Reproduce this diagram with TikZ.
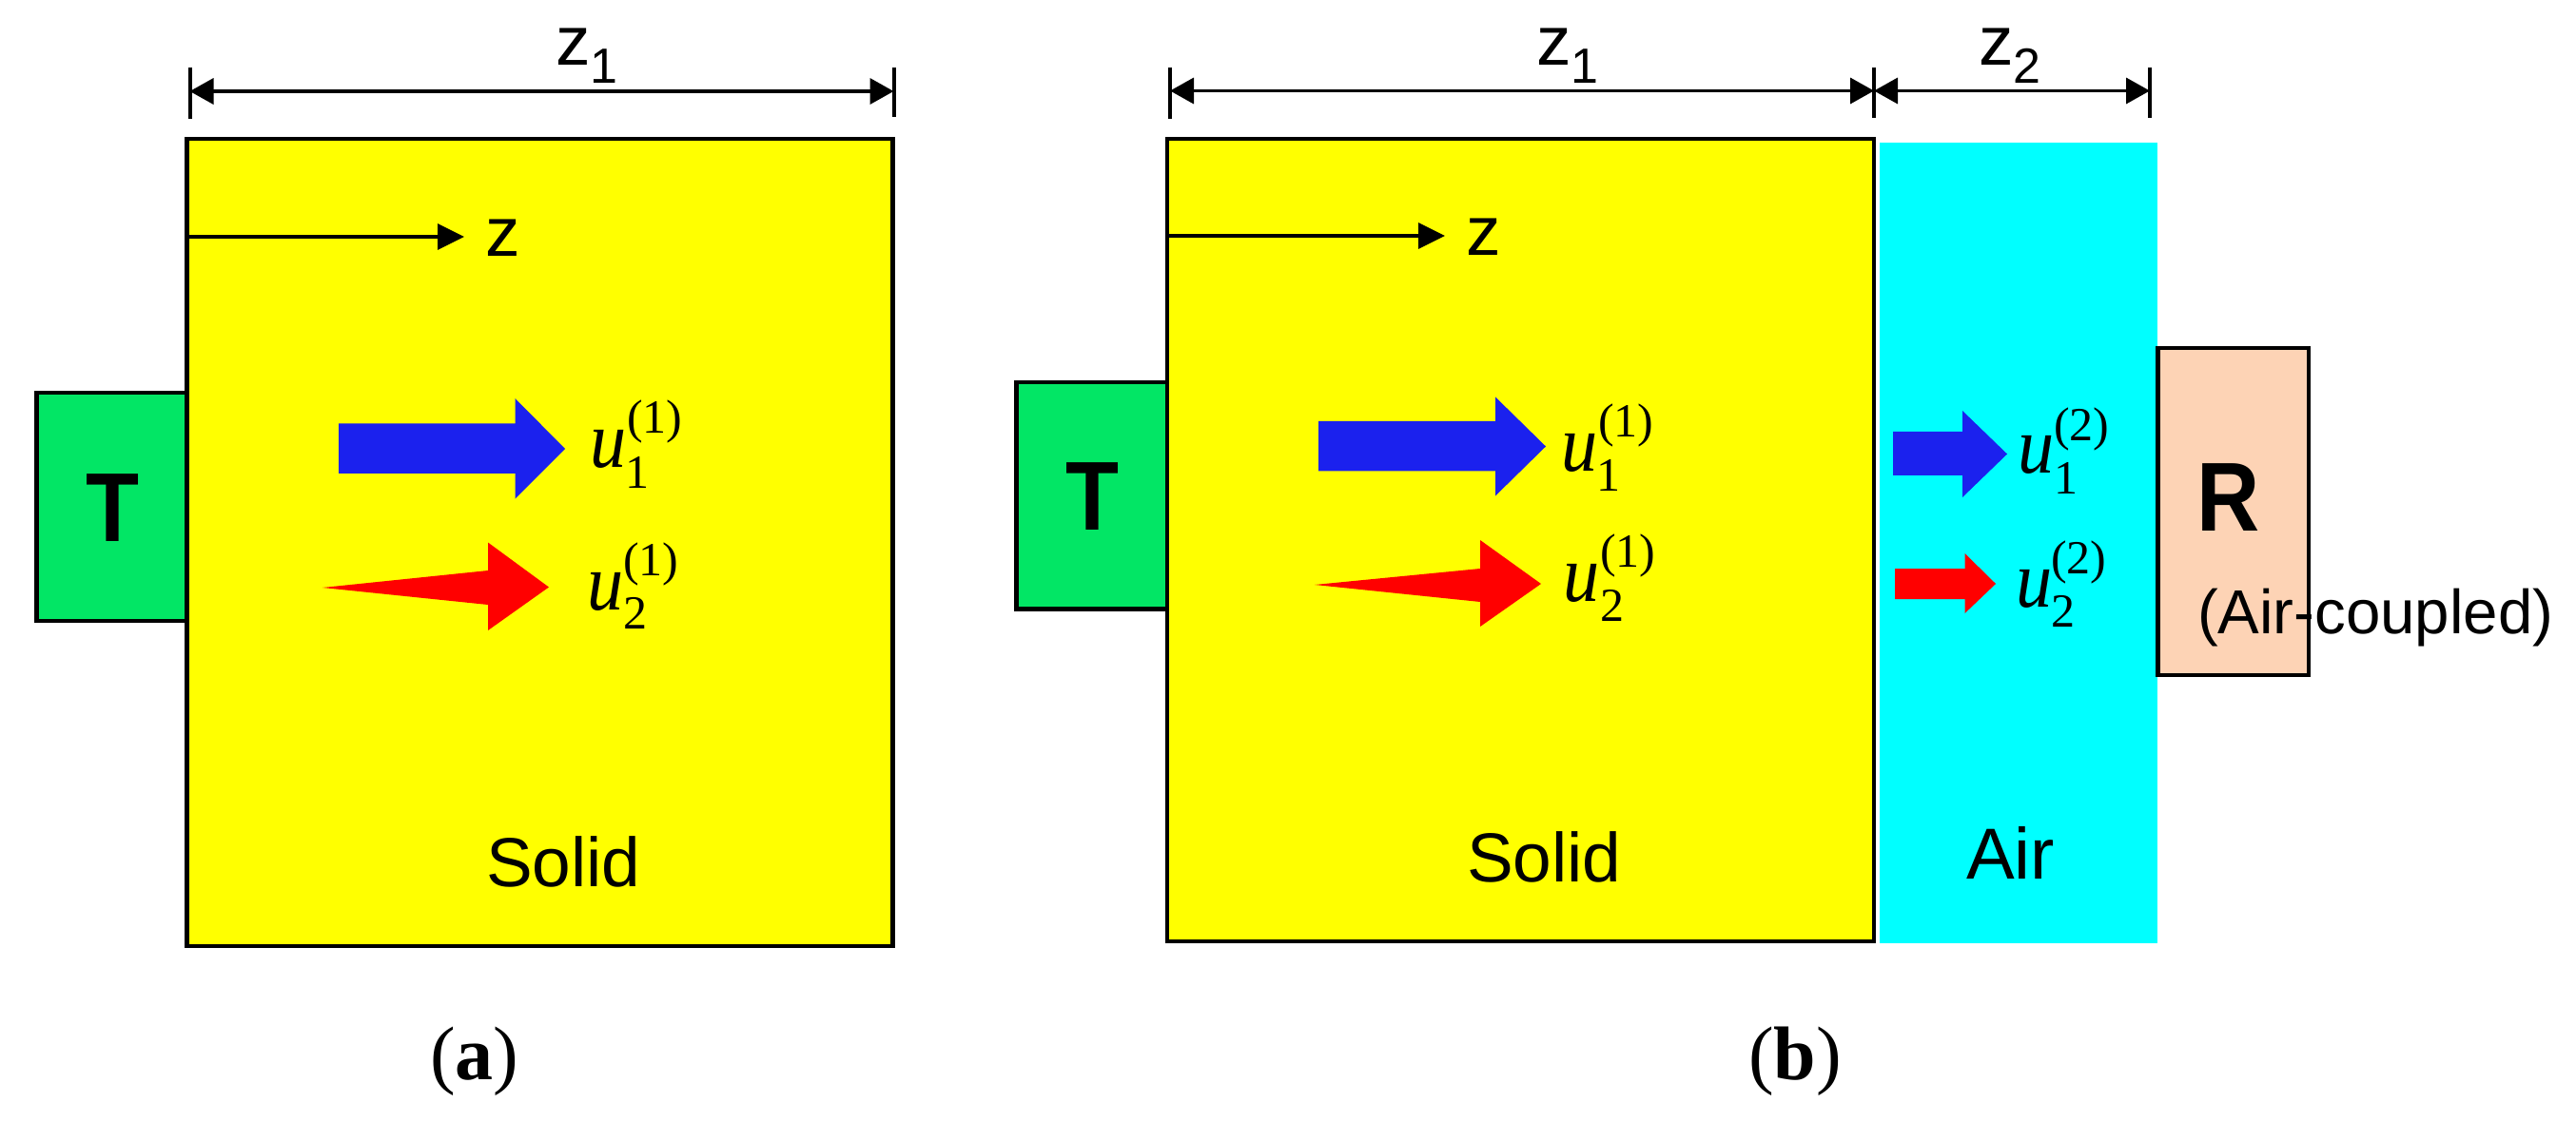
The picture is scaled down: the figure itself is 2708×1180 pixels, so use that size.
\documentclass[tikz,border=0pt]{standalone}
\usepackage{fontspec}
\usetikzlibrary{arrows.meta}
\setmainfont{Liberation Sans}
\newfontfamily\serifnum{Liberation Serif}
\definecolor{tgreen}{RGB}{2,230,101}
\definecolor{ublue}{RGB}{27,33,238}
\definecolor{rpeach}{RGB}{253,211,181}
\definecolor{pureyellow}{RGB}{255,255,0}
\definecolor{purecyan}{RGB}{0,255,255}
\definecolor{purered}{RGB}{255,0,0}
\newcommand{\pxfont}[1]{\fontsize{#1bp}{#1bp}\selectfont}
\newcommand{\narrow}[1]{\scalebox{0.89}[1]{#1}}
% z label with subscript
\newcommand{\zsub}[1]{\pxfont{36.5}z\raisebox{-9.5bp}{\pxfont{26}#1}}
% u with sub and superscript: sub, dxsub, dysub, sup, dxsup, dysup (all in bp)
\newcommand{\ulab}[6]{\scalebox{0.93}[1.04]{\serifnum\pxfont{41}\itshape u}\makebox[0pt][l]{\hspace*{#2bp}\raisebox{#3bp}{\serifnum\pxfont{25}#1}}\makebox[0pt][l]{\hspace*{#5bp}\raisebox{#6bp}{\serifnum\pxfont{25}#4}}}
\tikzset{
  x=0.5bp,y=-0.5bp,
  pbox/.style 2 args={rectangle,draw=black,line width=2.2bp,inner sep=0pt,outer sep=0pt,
    minimum width=#1*0.5bp,minimum height=#2*0.5bp},
  lab/.style={inner sep=0pt,outer sep=0pt,anchor=base west,text=black},
  letter/.style={lab,font=\pxfont{51.5}\bfseries},
  solidlab/.style={lab,font=\pxfont{36.5}},
  dimline/.style={line width=1.8bp,{Triangle[length=12.5bp,width=13.5bp]}-{Triangle[length=12.5bp,width=13.5bp]}},
  tick/.style={line width=2bp},
  axisline/.style={line width=1.6bp,-{Triangle[length=14bp,width=13.5bp]}},
}
\begin{document}
\begin{tikzpicture}
\useasboundingbox[fill=white] (0,0) rectangle (2708,1180);
% ---------- panel (a)
\node[pbox={742}{849},fill=pureyellow] (solidA) at (567.5,570.5) {};
\node[pbox={158}{240},fill=tgreen] (tA) at (117.5,533) {};
\node[letter] (tlA) at (90,569) {\narrow{T}};
\coordinate (dA1) at (199.5,96); \coordinate (dA2) at (939.5,96);
\coordinate (dA1t) at (199.5,71.5); \coordinate (dA1b) at (199.5,125);
\coordinate (dA2t) at (939.5,71.5); \coordinate (dA2b) at (939.5,123);
\draw[tick] (dA1t) -- (dA1b); \draw[tick] (dA2t) -- (dA2b);
\draw[dimline] (dA1) -- (dA2);
\node[lab] (zA) at (584,69) {\zsub{1}};
\coordinate (axA0) at (197,249); \coordinate (axA1) at (488,249);
\draw[axisline] (axA0) -- (axA1);
\node[lab,font=\pxfont{36.5}] (zaxA) at (510,270) {z};
\fill[ublue] (356,445.5) -- (541.5,445.5) -- (541.5,419) -- (594,472) -- (541.5,524.5) -- (541.5,498) -- (356,498) -- cycle;
\fill[purered] (339,618) -- (513,600) -- (513,570.5) -- (577,617.5) -- (513,663) -- (513,636) -- cycle;
\node[lab] (uA1) at (620,491) {\ulab{1}{-0.5}{-11}{(1)}{0.5}{17.5}};
\node[lab] (uA2) at (617,641) {\ulab{2}{0}{-10}{(1)}{0}{18}};
\node[solidlab] (solA) at (511,932) {Solid};
\node[lab,font=\serifnum\pxfont{40}] (capA) at (452,1135) {(\textbf{a})};
% ---------- panel (b)
\node[pbox={292}{841.5},draw=none,fill=purecyan] (air) at (2122,571.25) {};
\node[pbox={743}{844},fill=pureyellow] (solidB) at (1598.5,568) {};
\node[pbox={158.5}{238.5},fill=tgreen] (tB) at (1147.75,521.25) {};
\node[letter] (tlB) at (1120,557) {\narrow{T}};
\node[pbox={158.5}{344},fill=rpeach] (rB) at (2347.75,538) {};
\node[letter] (rl) at (2309,558) {\narrow{R}};
\node[lab,font=\pxfont{32.7}] (aircoupled) at (2310,666) {(Air-coupled)};
\coordinate (dB1) at (1230,95.5); \coordinate (dB2) at (1970,95.5); \coordinate (dB3) at (2260,95.5);
\coordinate (dB1t) at (1230,71); \coordinate (dB1b) at (1230,125);
\coordinate (dB2t) at (1970,71); \coordinate (dB2b) at (1970,124);
\coordinate (dB3t) at (2260,71); \coordinate (dB3b) at (2260,124);
\draw[tick] (dB1t) -- (dB1b); \draw[tick] (dB2t) -- (dB2b); \draw[tick] (dB3t) -- (dB3b);
\draw[dimline] (dB1) -- (dB2);
\draw[dimline] (dB2) -- (dB3);
\node[lab] (zB1) at (1615,69) {\zsub{1}};
\node[lab] (zB2) at (2080,69) {\zsub{2}};
\coordinate (axB0) at (1227,248); \coordinate (axB1) at (1519,248);
\draw[axisline] (axB0) -- (axB1);
\node[lab,font=\pxfont{36.5}] (zaxB) at (1541,269) {z};
\fill[ublue] (1386,443) -- (1572,443) -- (1572,417.5) -- (1625,469.5) -- (1572,521.5) -- (1572,495.5) -- (1386,495.5) -- cycle;
\fill[purered] (1382,615) -- (1556,598) -- (1556,568) -- (1620,614) -- (1556,659) -- (1556,633) -- cycle;
\node[lab] (uB1) at (1641,495.5) {\ulab{1}{-0.5}{-10.5}{(1)}{0.5}{18}};
\node[lab] (uB2) at (1643,632) {\ulab{2}{0.5}{-10.5}{(1)}{0.5}{18}};
\node[solidlab] (solB) at (1542,927) {Solid};
\node[lab,font=\serifnum\pxfont{40}] (capB) at (1838,1135) {(\textbf{b})};
\fill[ublue] (1990,454) -- (2063,454) -- (2063,432) -- (2110,477.5) -- (2063,523) -- (2063,500) -- (1990,500) -- cycle;
\fill[purered] (1992,598) -- (2065.5,598) -- (2065.5,582) -- (2098,614) -- (2065.5,645) -- (2065.5,630) -- (1992,630) -- cycle;
\node[lab] (uC1) at (2121,497.5) {\ulab{1}{0}{-11}{(2)}{0}{17}};
\node[lab] (uC2) at (2119,638) {\ulab{2}{-0.5}{-10.5}{(2)}{-0.5}{17.5}};
\node[lab,font=\pxfont{38}] (airl) at (2067,924) {Air};
\end{tikzpicture}
\end{document}
